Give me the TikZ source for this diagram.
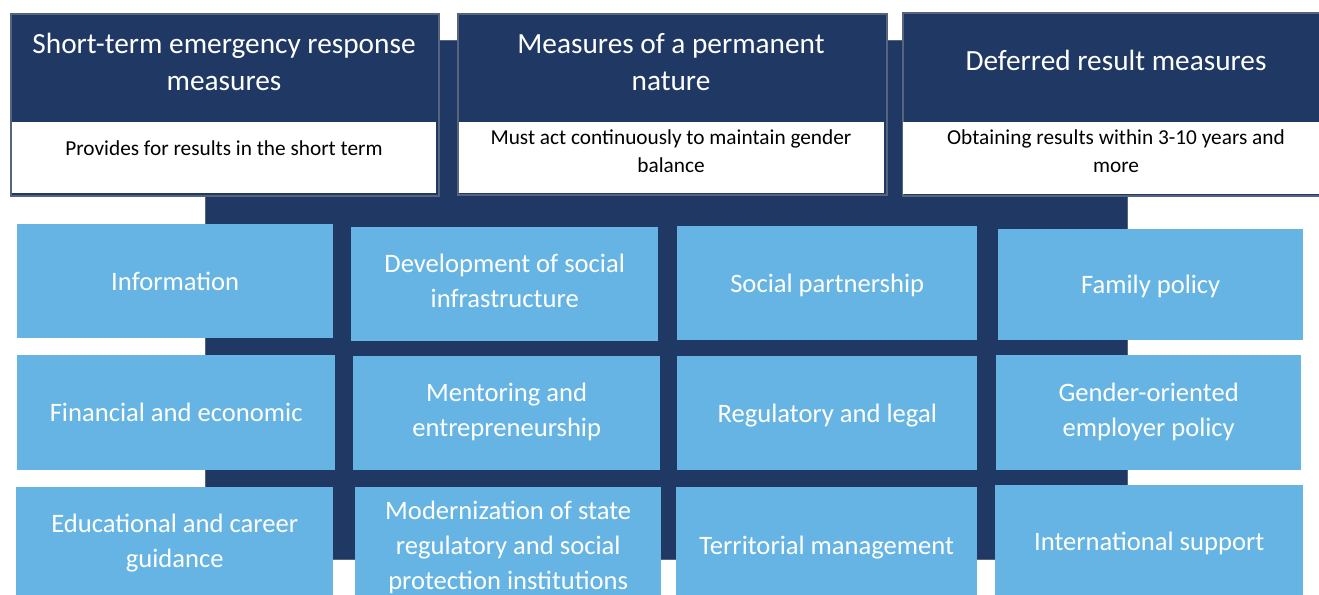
\documentclass[tikz,border=0pt]{standalone}
\usepackage{fontspec}
\setmainfont{Carlito}
\definecolor{navy}{RGB}{32,56,100}
\definecolor{sky}{RGB}{102,180,227}
\definecolor{edgegray}{RGB}{86,100,124}
\begin{document}
\begin{tikzpicture}[x=1pt,y=-1pt,
  headbox/.style={fill=navy, draw=edgegray, line width=1.6pt, anchor=north west, inner sep=0pt},
  subbox/.style={fill=white, anchor=north west, inner sep=0pt},
  titletext/.style={text=white, font=\fontsize{29.3}{37}\selectfont, align=center, inner sep=0pt},
  subtext/.style={text=black, font=\fontsize{21.3}{28}\selectfont, align=center, inner sep=0pt},
  tile/.style={fill=sky, anchor=north west, inner sep=0pt, text=white,
    font=\fontsize{26.6}{34}\selectfont, align=center,
    execute at begin node={\rule{0pt}{24pt}}, execute at end node={\rule[-6pt]{0pt}{6pt}}},
  tilemulti/.style={tile, font=\fontsize{26.6}{35}\selectfont,
    execute at begin node={\rule{0pt}{35pt}}}]

\useasboundingbox (0,0) rectangle (1319,594);
\clip (0,0) rectangle (1319,594);
\fill[white] (0,0) rectangle (1319,594);

% dark background panel
\node[fill=navy, draw=edgegray, line width=1pt, anchor=north west, inner sep=0pt,
      minimum width=922pt, minimum height=519pt] (bg) at (205,40) {};

% header boxes
\node[headbox, minimum width=428pt, minimum height=182pt] (h1) at (10,13) {};
\node[subbox, minimum width=424pt, minimum height=71pt] (s1) at (12,122) {};
\node[headbox, minimum width=429pt, minimum height=181pt] (h2) at (457,13) {};
\node[subbox, minimum width=425pt, minimum height=71pt] (s2) at (459,122) {};
\node[headbox, minimum width=430pt, minimum height=183pt] (h3) at (902,12) {};
\node[subbox, minimum width=430pt, minimum height=72pt] (s3) at (903,122) {};

\node[titletext] (t1) at (224,62) {Short-term emergency response\\measures};
\node[titletext] (t2) at (671,62) {Measures of a permanent\\nature};
\node[titletext] (t3) at (1116,60) {Deferred result measures};

\node[subtext] (d1) at (224,148) {Provides for results in the short term};
\node[subtext] (d2) at (671,151) {Must act continuously to maintain gender\\balance};
\node[subtext] (d3) at (1116,151) {Obtaining results within 3-10 years and\\more};

% tiles, row 1
\node[tile, minimum width=316pt, minimum height=114pt] (info) at (17,224) {Information};
\node[tilemulti, minimum width=307pt, minimum height=114pt] (dev) at (351,227) {Development of social\\infrastructure};
\node[tile, minimum width=300pt, minimum height=114pt] (soc) at (677,226) {Social partnership};
\node[tile, minimum width=305pt, minimum height=111pt] (fam) at (998,229) {Family policy};
% row 2
\node[tile, minimum width=318pt, minimum height=115pt] (fin) at (17,355) {Financial and economic};
\node[tilemulti, minimum width=307pt, minimum height=114pt] (men) at (353,356) {Mentoring and\\entrepreneurship};
\node[tile, minimum width=300pt, minimum height=114pt] (reg) at (677,356) {Regulatory and legal};
\node[tilemulti, minimum width=305pt, minimum height=115pt] (gen) at (996,355) {Gender-oriented\\employer policy};
% row 3 (cut by the lower edge)
\node[tilemulti, minimum width=317pt, minimum height=114pt] (edu) at (16,487) {Educational and career\\guidance};
\node[tilemulti, minimum width=306pt, minimum height=122pt] (mod) at (355,487) {Modernization of state\\regulatory and social\\protection institutions};
\node[tile, minimum width=301pt, minimum height=116pt] (ter) at (676,487) {Territorial management};
\node[tile, minimum width=308pt, minimum height=112pt] (int) at (995,485) {International support};
\end{tikzpicture}
\end{document}
